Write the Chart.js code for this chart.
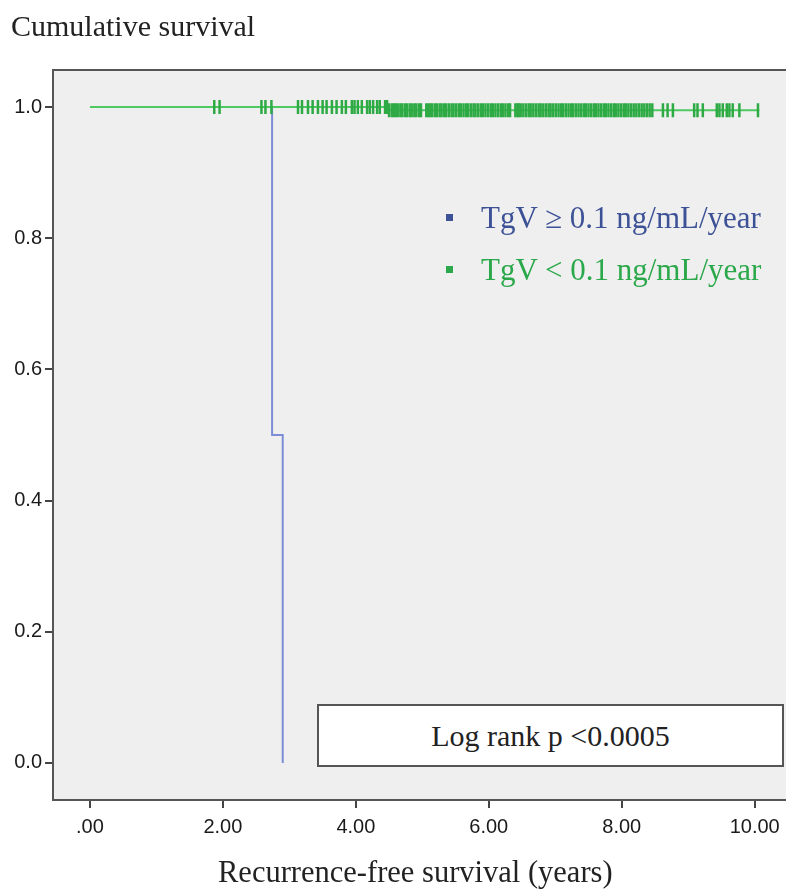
<!DOCTYPE html>
<html>
<head>
<meta charset="utf-8">
<script src="https://cdn.jsdelivr.net/npm/chart.js@4.4.0/dist/chart.umd.min.js"></script>
<style>
  body { margin: 0; background: #fff; overflow: hidden; }
  .wrap { position: relative; width: 786px; height: 892px; overflow: hidden; font-family: "Liberation Serif", "Times New Roman", serif; }
  #chart { position: absolute; left: 0; top: 0; }
  .txt { position: absolute; white-space: nowrap; line-height: 1; }
  .y_title { left: 11px; top: 11px; font-size: 30px; color: #222; }
  .x_title { left: 218px; top: 857px; font-size: 30.5px; color: #222; }
  .legend_item { left: 446px; font-size: 31px; }
  .legend_item .sq { display: inline-block; width: 7px; height: 7px; margin-right: 28px; vertical-align: middle; position: relative; top: -3px; }
  .high { top: 202px; color: #3d5296; }
  .high .sq { background: #3d5296; }
  .low { top: 254px; color: #2aa84a; }
  .low .sq { background: #2aa84a; }
  .logrank { position: absolute; left: 317px; top: 704px; width: 463px; height: 59px; background: #fff; border: 2px solid #555; font-size: 30px; color: #222; text-align: center; line-height: 59px; }
</style>
</head>
<body>
<div class="wrap">
  <canvas id="chart" width="820" height="892"></canvas>
  <div class="txt y_title">Cumulative survival</div>
  <div class="txt legend_item high"><span class="sq"></span>TgV ≥ 0.1 ng/mL/year</div>
  <div class="txt legend_item low"><span class="sq"></span>TgV &lt; 0.1 ng/mL/year</div>
  <div class="logrank">Log rank p &lt;0.0005</div>
  <div class="txt x_title">Recurrence-free survival (years)</div>
</div>
<script>
const xTicks = [0, 2, 4, 6, 8, 10]
const yTicks = [0, 0.2, 0.4, 0.6, 0.8, 1.0]

// TgV >= 0.1 group (step points: time, survival)
const highTimes = [0, 2.74, 2.90]
const highSurv = [1.0, 0.5, 0.0]

// TgV < 0.1 group
const lowTimes = [0, 4.48, 10.07]
const lowSurv = [1.0, 0.995, 0.995]

// censored times, TgV < 0.1 group
const lowCensored = [
  1.87, 1.95, 2.58, 2.64, 2.73, 3.13, 3.19, 3.28, 3.35, 3.43, 3.50, 3.56, 3.64, 3.71,
  3.79, 3.85, 3.94, 3.98, 4.03, 4.09, 4.17, 4.21, 4.26, 4.32, 4.36, 4.44,
  4.47, 4.50, 4.54, 4.57, 4.60, 4.63, 4.67, 4.70, 4.74, 4.77, 4.81, 4.84, 4.88, 4.91, 4.95, 4.98,
  5.06, 5.09, 5.12, 5.15, 5.19, 5.22, 5.26, 5.29, 5.33, 5.36, 5.40, 5.44, 5.47, 5.51, 5.55, 5.58,
  5.62, 5.66, 5.69, 5.73, 5.77, 5.80, 5.84, 5.88, 5.91, 5.95, 5.99, 6.03, 6.06, 6.10, 6.14,
  6.18, 6.21, 6.25, 6.29, 6.32, 6.40, 6.43, 6.45, 6.48, 6.52, 6.56, 6.60, 6.63, 6.67, 6.71, 6.75, 6.78,
  6.82, 6.86, 6.90, 6.93, 6.97, 7.01, 7.05, 7.09, 7.12, 7.16, 7.20, 7.24, 7.27, 7.31, 7.35,
  7.39, 7.43, 7.46, 7.50, 7.54, 7.58, 7.61, 7.65, 7.69, 7.73, 7.76, 7.80, 7.84, 7.88, 7.91,
  7.95, 7.99, 8.03, 8.06, 8.10, 8.14, 8.18, 8.22, 8.26, 8.30, 8.34, 8.38, 8.42, 8.46,
  8.62, 8.69, 8.77, 9.09, 9.14, 9.22, 9.43, 9.47, 9.52, 9.58, 9.62, 9.67, 9.77, 10.05
]

function survAt(times, surv, t) {
  let s = surv[0]
  for (let i = 0; i < times.length; i++) {
    if (times[i] <= t) s = surv[i]
  }
  return s
}

const highPoints = highTimes.map((t, i) => ({x: t, y: highSurv[i]}))
const lowPoints = lowTimes.map((t, i) => ({x: t, y: lowSurv[i]}))
const censorPoints = lowCensored.map(t => ({x: t, y: survAt(lowTimes, lowSurv, t)}))

const frame = {
  id: 'frame',
  beforeDraw(chart) {
    const {ctx, chartArea: a} = chart
    ctx.save()
    ctx.fillStyle = '#efefef'
    ctx.fillRect(a.left, a.top, a.right - a.left, a.bottom - a.top)
    ctx.restore()
  },
  afterDraw(chart) {
    const {ctx, chartArea: a} = chart
    ctx.save()
    ctx.strokeStyle = '#555'
    ctx.lineWidth = 2
    ctx.beginPath()
    ctx.moveTo(a.left, a.top)
    ctx.lineTo(a.right, a.top)
    ctx.stroke()
    ctx.restore()
  }
}

const tickFont = {family: '"Liberation Sans", Arial, sans-serif', size: 20}

// plot frame runs past the right edge of the picture, so the canvas is wider than the page
new Chart(document.getElementById('chart'), {
  type: 'scatter',
  data: {
    datasets: [
      {
        data: censorPoints,
        pointStyle: 'line',
        rotation: 90,
        pointRadius: 7,
        borderWidth: 2.5,
        borderColor: '#2eaa44',
        showLine: false,
        order: 0
      },
      {
        data: lowPoints,
        showLine: true,
        stepped: 'before',
        pointRadius: 0,
        borderColor: '#4fc962',
        borderWidth: 2,
        order: 1
      },
      {
        data: highPoints,
        showLine: true,
        stepped: 'before',
        pointRadius: 0,
        borderColor: '#7d8cd6',
        borderWidth: 2,
        order: 2
      }
    ]
  },
  options: {
    responsive: false,
    animation: false,
    devicePixelRatio: 1,
    layout: {padding: {top: 70, left: 0, right: 0, bottom: 0}},
    plugins: {legend: {display: false}, tooltip: {enabled: false}},
    scales: {
      x: {
        type: 'linear',
        min: -0.556,
        max: 10.84,
        afterBuildTicks: s => { s.ticks = xTicks.map(v => ({value: v})) },
        afterFit: s => { s.height = 92 },
        grid: {drawOnChartArea: false, drawTicks: true, tickLength: 8, color: '#444', lineWidth: 2},
        border: {display: true, color: '#555', width: 2},
        ticks: {
          font: tickFont, color: '#1a1a1a', padding: 7, maxRotation: 0,
          callback: v => v == 0 ? '.00' : v.toFixed(2)
        }
      },
      y: {
        type: 'linear',
        min: -0.0565,
        max: 1.0565,
        afterBuildTicks: s => { s.ticks = yTicks.map(v => ({value: v})) },
        afterFit: s => { s.width = 53 },
        grid: {drawOnChartArea: false, drawTicks: true, tickLength: 8, color: '#444', lineWidth: 2},
        border: {display: true, color: '#555', width: 2},
        ticks: {
          font: tickFont, color: '#1a1a1a', padding: 3,
          callback: v => v.toFixed(1)
        }
      }
    }
  },
  plugins: [frame]
})
</script>
</body>
</html>
